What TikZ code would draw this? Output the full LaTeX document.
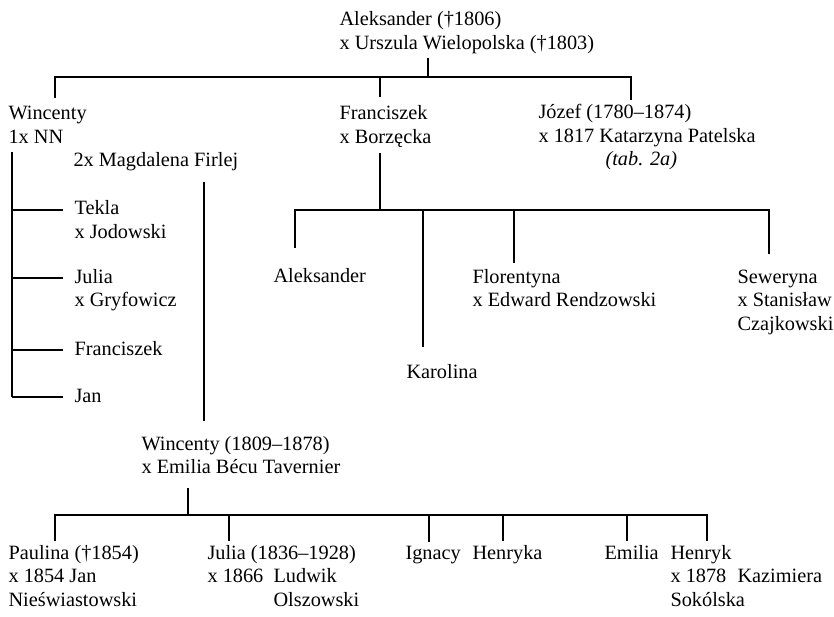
\documentclass[tikz,border=0pt]{standalone}
\usepackage{fontspec}
\setmainfont{Liberation Serif}

\begin{document}
\begin{tikzpicture}[x=1pt,y=-1pt,line width=1.1pt,
    person/.style={anchor=base west,inner sep=0pt,align=left,
      font=\fontsize{20.3}{23.5}\selectfont}]
  \useasboundingbox (0,0) rectangle (834,617);

  % Generation 1 (positions are baselines of the last line)
  \node[person] (alekA) at (339,49.5) {Aleksander (†1806)\\x Urszula Wielopolska (†1803)};

  % Generation 2
  \node[person] (wincA) at (8,143.5) {Wincenty\\1x NN};
  \node[person] (firlej) at (73,167) {2x Magdalena Firlej};
  \node[person] (franA) at (339,143.5) {Franciszek\\x Borzęcka};
  \node[person] (jozef) at (538,142.5) {Józef (1780–1874)\\x 1817 Katarzyna Patelska};
  \node[person] (tab) at (605,166) {\textit{(tab. 2a)}};

  % Children of Wincenty with NN
  \node[person] (tekla) at (74,238.5) {Tekla\\x Jodowski};
  \node[person] (julA) at (74,306.5) {Julia\\x Gryfowicz};
  \node[person] (franB) at (74,355) {Franciszek};
  \node[person] (jan) at (74,402) {Jan};

  % Children of Franciszek
  \node[person] (alekB) at (273,283) {Aleksander};
  \node[person] (karol) at (406,378) {Karolina};
  \node[person] (flor) at (472,306.5) {Florentyna\\x Edward Rendzowski};
  \node[person] (sew) at (737,330) {Seweryna\\x Stanisław\\Czajkowski};

  % Wincenty with Magdalena Firlej
  \node[person] (wincB) at (141,473.5) {Wincenty (1809–1878)\\x Emilia Bécu Tavernier};

  % Generation 4
  \node[person] (paul) at (8,606) {Paulina (†1854)\\x 1854 Jan\\Nieświastowski};
  \node[person] (julB) at (207,606) {Julia (1836–1928)\\\makebox[66pt][l]{x 1866}Ludwik\\\hspace*{66pt}Olszowski};
  \node[person] (ign) at (405,559) {Ignacy};
  \node[person] (henA) at (472,559) {Henryka};
  \node[person] (emil) at (604,559) {Emilia};
  \node[person] (henB) at (670,606) {Henryk\\\makebox[67pt][l]{x 1878}Kazimiera\\Sokólska};

  % Bar under Aleksander
  \coordinate (t0) at (55,77);
  \coordinate (t1) at (380,77);
  \coordinate (tP) at (428,77);
  \coordinate (t2) at (631,77);
  \draw[shorten <=3.5] (alekA.south -| tP) -- (tP);
  \draw[shorten <=8.5,shorten >=4] (wincA.north -| t0) |- (t2) -- (jozef.north -| t2);
  \draw[shorten >=8] (t1) -- (franA.north -| t1);

  % Bar under Franciszek
  \coordinate (f0) at (295,210);
  \coordinate (fP) at (380,210);
  \coordinate (f1) at (423,210);
  \coordinate (f2) at (514,210);
  \coordinate (f3) at (769,210);
  \draw[shorten <=5] (franA.south -| fP) -- (fP);
  \draw[shorten <=20,shorten >=15] (alekB.north -| f0) |- (f3) -- (sew.north -| f3);
  \draw[shorten >=16] (f1) -- (karol.north -| f1);
  \draw[shorten >=5] (f2) -- (flor.north -| f2);

  % Line of Wincenty with NN
  \coordinate (w1) at (12,210);
  \coordinate (w2) at (12,278);
  \coordinate (w3) at (12,350);
  \coordinate (w4) at (12,397);
  \draw[shorten <=8] (wincA.south -| w1) -- (w4);
  \draw[shorten >=11] (w1) -- (tekla.west |- w1);
  \draw[shorten >=11] (w2) -- (julA.west |- w2);
  \draw[shorten >=11] (w3) -- (franB.west |- w3);
  \draw[shorten >=11] (w4) -- (jan.west |- w4);

  % Line of Wincenty with Magdalena Firlej
  \coordinate (m) at (204,300);
  \draw[shorten <=10,shorten >=14] (firlej.south -| m) -- (wincB.north -| m);

  % Bar under Wincenty (1809-1878)
  \coordinate (b0) at (55,515);
  \coordinate (bP) at (188,515);
  \coordinate (b1) at (229,515);
  \coordinate (b2) at (429,515);
  \coordinate (b3) at (503,515);
  \coordinate (b4) at (627,515);
  \coordinate (b5) at (707,515);
  \draw[shorten <=14] (wincB.south -| bP) -- (bP);
  \draw[shorten <=3,shorten >=3] (paul.north -| b0) |- (b5) -- (henB.north -| b5);
  \draw[shorten >=3] (b1) -- (julB.north -| b1);
  \draw[shorten >=3] (b2) -- (ign.north -| b2);
  \draw[shorten >=3] (b3) -- (henA.north -| b3);
  \draw[shorten >=3] (b4) -- (emil.north -| b4);
\end{tikzpicture}
\end{document}
